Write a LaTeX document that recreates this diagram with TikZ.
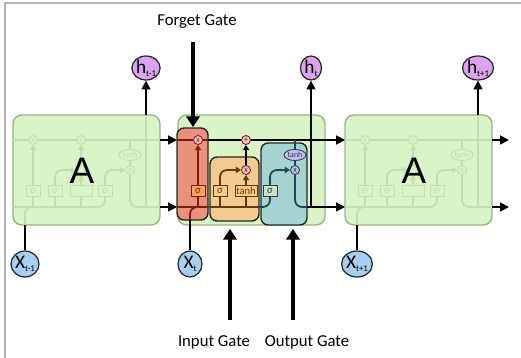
\documentclass[tikz,border=0pt]{standalone}
\usepackage{fontspec}
\setmainfont{Carlito}
\setsansfont{Liberation Sans}
\usetikzlibrary{arrows.meta, positioning, shapes.geometric}

\definecolor{cellfill}{HTML}{DAF4C8}
\definecolor{celledge}{HTML}{93B382}
\definecolor{fadewire}{HTML}{C3DFAF}
\definecolor{forgetfill}{HTML}{E9917B}
\definecolor{forgetwire}{HTML}{7B1E14}
\definecolor{inputfill}{HTML}{F2CB93}
\definecolor{inputwire}{HTML}{5F3C10}
\definecolor{outputfill}{HTML}{A6D2D0}
\definecolor{outputwire}{HTML}{1E4557}
\definecolor{hfill}{HTML}{DBA4EE}
\definecolor{xfill}{HTML}{A8CEF2}
\definecolor{oppink}{HTML}{F7C6CF}
\definecolor{oplilac}{HTML}{CBBDEB}
\definecolor{sigred}{HTML}{F7A55B}
\definecolor{sigtan}{HTML}{F9CB85}
\definecolor{sigteal}{HTML}{CFE0C3}

\newcommand{\hsub}[1]{\raisebox{-0.3ex}{\fontsize{5}{5}\selectfont #1}}

\begin{document}
\begin{tikzpicture}[x=0.02cm, y=-0.02cm,
    cell/.style={draw=celledge, fill=cellfill, line width=0.8pt, rounded corners=5pt,
                 inner sep=0pt, outer sep=0pt, minimum width=2.94cm, minimum height=2.2cm},
    gatebox/.style={draw=black!85, line width=0.8pt, rounded corners=4pt,
                    inner sep=0pt, outer sep=0pt},
    hstate/.style={ellipse, draw=black!85, fill=hfill, line width=0.7pt, inner sep=0pt,
                   minimum width=0.42cm, minimum height=0.48cm, font=\fontsize{11}{11}\selectfont},
    xstate/.style={hstate, fill=xfill, minimum width=0.48cm, minimum height=0.52cm},
    op/.style={circle, draw, line width=0.5pt, inner sep=0pt, minimum size=0.18cm,
               font=\fontsize{5}{5}\selectfont},
    nnlayer/.style={draw, line width=0.5pt, inner sep=0pt, minimum height=0.22cm,
                    minimum width=0.28cm, font=\fontsize{6}{6}\selectfont},
    wire/.style={line width=1pt},
    arrow/.style={wire, -{Triangle[length=5pt, width=5pt]}},
    smallarrow/.style={wire, -{Triangle[length=3pt, width=3.5pt]}},
    gatearrow/.style={-{Triangle[length=6pt, width=7.5pt]}, line width=2.4pt},
    gatelabel/.style={font=\fontsize{9.5}{11}\selectfont},
]
    \useasboundingbox (0,0) rectangle (521,358);
    \draw[gray!60, line width=0.8pt] (5,358) -- (5,3) -- (521,3);

    \coordinate (csrow) at (0,140);
    \coordinate (hrow) at (0,207);

    % faded neighbour cells
    \foreach \dx/\nm in {-165/L, 167/R} {
        \begin{scope}[shift={(\dx,0)}]
            \node[cell] (cell\nm) at (251.5,170) {};
            \begin{scope}[fadewire, every node/.append style={fill=cellfill}]
                \node[op] (fx\nm) at (198,140) {x};
                \node[op] (pl\nm) at (246,140) {+};
                \node[op] (ix\nm) at (246,170) {};
                \node[op] (ox\nm) at (295,170) {x};
                \node[op, ellipse, minimum width=0.44cm, minimum height=0.22cm,
                      font=\fontsize{4.5}{5}\selectfont] (ot\nm) at (295,155) {tanh};
                \node[nnlayer] (fs\nm) at (198,191) {σ};
                \node[nnlayer] (is\nm) at (220,191) {σ};
                \node[nnlayer, minimum width=0.44cm] (it\nm) at (246,191) {};
                \node[nnlayer] (os\nm) at (270,191) {σ};
                \draw[wire] (178,140) -- (fx\nm) (fx\nm) -- (pl\nm) (pl\nm) -- (325,140);
                \draw[wire, rounded corners=4pt] (178,207) -| (os\nm.south);
                \draw[wire] (fs\nm.south) -- (fs\nm |- hrow);
                \draw[wire] (is\nm.south) -- (is\nm |- hrow) (it\nm.south) -- (it\nm |- hrow);
                \draw[smallarrow] (fs\nm) -- (fx\nm);
                \draw[smallarrow, rounded corners=4pt] (is\nm.north) |- (ix\nm.west);
                \draw[smallarrow] (it\nm) -- (ix\nm);
                \draw[smallarrow] (ix\nm) -- (pl\nm);
                \draw[smallarrow, rounded corners=4pt] (os\nm.north) |- (ox\nm.west);
                \draw[wire] (ox\nm |- csrow) -- (ot\nm) (ot\nm) -- (ox\nm);
                \draw[wire, rounded corners=4pt] (ox\nm.south) |- (325,207);
                \draw[wire] (311,207) -- (311,115);
                \draw[wire, rounded corners=4pt] (190,225) |- (fs\nm |- hrow);
            \end{scope}
            \node[inner sep=0pt, font=\sffamily\fontsize{21}{21}\selectfont] (A\nm) at (247,171) {A};
        \end{scope}
    }

    % the cell at time t
    \node[cell] (cellM) at (251.5,170) {};
    \node[gatebox, fill=forgetfill, minimum width=0.62cm, minimum height=1.84cm] (forget) at (192.5,174) {};
    \node[gatebox, fill=inputfill, minimum width=0.98cm, minimum height=1.28cm] (input) at (234.5,189) {};
    \node[gatebox, fill=outputfill, minimum width=0.92cm, minimum height=1.64cm] (output) at (284,184) {};

    \node[op, draw=forgetwire, fill=oppink, text=forgetwire] (fx) at (198,140) {x};
    \node[op, draw=forgetwire, fill=oppink, text=forgetwire] (pl) at (246,140) {+};
    \node[op, draw=forgetwire, fill=oppink, text=forgetwire] (ix) at (246,170) {x};
    \node[op, draw=outputwire, fill=oplilac, text=outputwire] (ox) at (295,170) {x};
    \node[op, ellipse, draw=outputwire, fill=oplilac, text=outputwire, minimum width=0.44cm,
          minimum height=0.22cm, font=\fontsize{4.5}{5}\selectfont] (ot) at (295,155) {tanh};
    \node[nnlayer, draw=forgetwire, fill=sigred, text=forgetwire] (fs) at (198,191) {σ};
    \node[nnlayer, draw=inputwire, fill=sigtan, text=inputwire] (is) at (220,191) {σ};
    \node[nnlayer, draw=inputwire, fill=sigtan, text=inputwire, minimum width=0.44cm] (it) at (246,191) {tanh};
    \node[nnlayer, draw=outputwire, fill=sigteal, text=outputwire] (os) at (270,191) {σ};

    % cell state
    \draw[arrow] (cellL.east |- csrow) -- (forget.west |- csrow);
    \draw[wire, forgetwire] (forget.west |- csrow) -- (fx) (fx) -- (forget.east |- csrow);
    \draw[wire] (forget.east |- csrow) -- (pl);
    \draw[arrow] (pl) -- (cellR.west |- csrow);

    % hidden state and gates
    \draw[arrow] (cellL.east |- hrow) -- (forget.west |- hrow);
    \draw[wire, forgetwire] (forget.west |- hrow) -- (forget.east |- hrow);
    \draw[wire, inputwire] (forget.east |- hrow) -- (input.east |- hrow);
    \draw[wire, outputwire, rounded corners=4pt] (input.east |- hrow) -| (os.south);
    \draw[wire, forgetwire] (fs.south) -- (fs |- hrow);
    \draw[wire, inputwire] (is.south) -- (is |- hrow) (it.south) -- (it |- hrow);
    \draw[smallarrow, forgetwire] (fs) -- (fx);
    \draw[smallarrow, inputwire, rounded corners=4pt] (is.north) |- (ix.west);
    \draw[smallarrow, inputwire] (it) -- (ix);
    \draw[smallarrow] (ix) -- (pl);
    \draw[smallarrow, outputwire, rounded corners=4pt] (os.north) |- (ox.west);
    \draw[wire, outputwire] (ox |- csrow) -- (ot) (ot) -- (ox);
    \draw[wire, outputwire, rounded corners=4pt] (ox.south) |- (output.east |- hrow);
    \draw[arrow] (output.east |- hrow) -- (cellR.west |- hrow);

    % inputs and outputs
    \node[hstate] (ht1) at (146,68) {h\hsub{t-1}};
    \node[hstate] (ht) at (311,68) {h\hsub{t}};
    \node[hstate] (htp) at (478,68) {h\hsub{t+1}};
    \node[xstate] (xt1) at (25,264) {X\hsub{t-1}};
    \node[xstate] (xt) at (190,264) {X\hsub{t}};
    \node[xstate] (xtp) at (357,264) {X\hsub{t+1}};

    \draw[arrow] (ht1 |- cellL.north) -- (ht1);
    \draw[arrow] (ht |- hrow) -- (ht);
    \draw[arrow] (htp |- cellR.north) -- (htp);
    \draw[wire] (xt1) -- (xt1 |- cellL.south);
    \draw[wire] (xt) -- (xt |- forget.south);
    \draw[wire, forgetwire, rounded corners=4pt] (xt |- forget.south) |- (fs |- hrow);
    \draw[wire] (xtp) -- (xtp |- cellR.south);

    \coordinate (outc) at (509,140);
    \coordinate (outh) at (509,207);
    \draw[arrow] (cellR.east |- csrow) -- (outc);
    \draw[arrow] (cellR.east |- hrow) -- (outh);

    % gate labels
    \node[gatelabel] (fgl) at (197,22) {Forget Gate};
    \node[gatelabel] (igl) at (214,342) {Input Gate};
    \node[gatelabel] (ogl) at (307,342) {Output Gate};
    \coordinate (fgtip) at (193,127);
    \coordinate (igtip) at (230,229);
    \coordinate (ogtip) at (293,229);
    \draw[gatearrow, shorten <=4pt] (fgl.south -| fgtip) -- (fgtip);
    \draw[gatearrow, shorten <=5pt] (igl.north -| igtip) -- (igtip);
    \draw[gatearrow, shorten <=5pt] (ogl.north -| ogtip) -- (ogtip);
\end{tikzpicture}
\end{document}
